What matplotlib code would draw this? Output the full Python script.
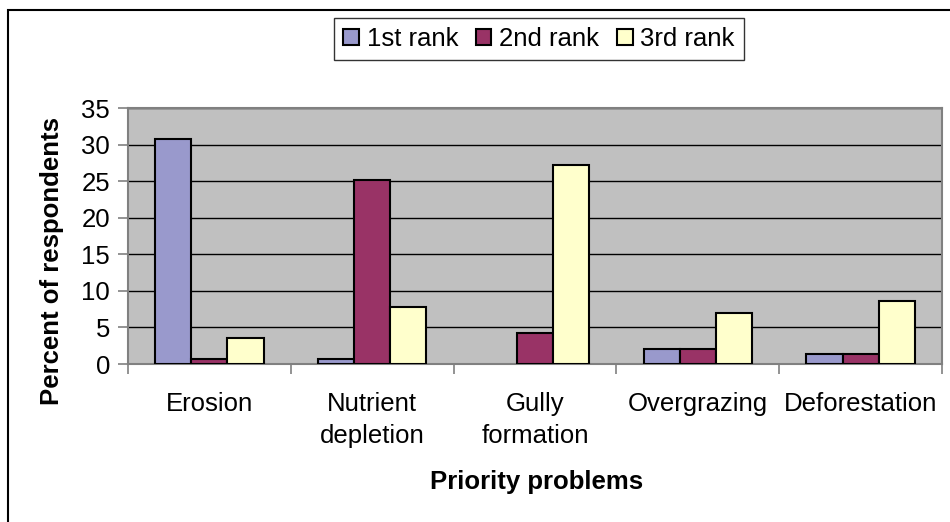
import numpy as np
import matplotlib.pyplot as plt
from matplotlib.patches import Rectangle

categories = ["Erosion", "Nutrient\ndepletion", "Gully\nformation", "Overgrazing", "Deforestation"]
series_names = ["1st rank", "2nd rank", "3rd rank"]
rank1 = [30.7, 0.7, 0.0, 2.1, 1.3]
rank2 = [0.7, 25.1, 4.3, 2.1, 1.3]
rank3 = [3.5, 7.8, 27.2, 7.0, 8.6]
colors = ["#9999CC", "#993366", "#FFFFCC"]

plt.rcParams["font.family"] = ["Liberation Sans", "DejaVu Sans"]

fig = plt.figure(figsize=(9.5, 5.22), dpi=100)
ax = fig.add_axes([128 / 950, 1 - 364 / 522, (942 - 128) / 950, (364 - 108) / 522])
ax.set_facecolor("#C0C0C0")

x = np.arange(len(categories))
w = 1 / 4.5
for i, (vals, name) in enumerate(zip([rank1, rank2, rank3], series_names)):
    bars = ax.bar(x + (i - 1) * w, vals, w, color=colors[i], edgecolor="black",
                  linewidth=1.5, label=name, zorder=3)
    for b, v in zip(bars, vals):
        if v == 0:
            b.set_linewidth(0)

ax.set_xlim(-0.5, len(categories) - 0.5)
ax.set_ylim(0, 35)
ax.set_yticks(range(0, 36, 5))
ax.yaxis.grid(True, color="black", linewidth=1, zorder=0)
ax.set_xticks(np.arange(len(categories) + 1) - 0.5)
ax.set_xticklabels([])
ax.set_xticks(x, minor=True)
ax.set_xticklabels(categories, minor=True, fontsize=18.5, linespacing=1.45)
ax.tick_params(axis="x", which="minor", length=0, pad=20)
ax.tick_params(axis="x", which="major", length=7, color="#808080", width=1.2)
ax.tick_params(axis="y", labelsize=18.5, length=7, color="#808080", width=1.2, pad=6)
for s in ["top", "right", "left", "bottom"]:
    ax.spines[s].set_color("#808080")
    ax.spines[s].set_linewidth(1.5)

ax.set_ylabel("Percent of respondents", fontsize=18.5, fontweight="bold")
ax.yaxis.set_label_coords(64 / 950, 0.5, transform=fig.transFigure)
ax.set_xlabel("Priority problems", fontsize=18.5, fontweight="bold")
ax.xaxis.label.set_va("center")
ax.xaxis.set_label_coords(537 / 950, 1 - 482 / 522, transform=fig.transFigure)

leg = fig.legend(loc="center", bbox_to_anchor=(539 / 950, 1 - 39 / 522), ncol=3,
                 fontsize=18.5, frameon=True, fancybox=False, edgecolor="black",
                 handlelength=0.6, handleheight=0.6, handletextpad=0.3,
                 columnspacing=0.7, borderpad=0.35)
leg.get_frame().set_linewidth(1)

fig.patches.append(Rectangle((8 / 950, -10 / 522), 960 / 950, 522 / 522,
                             transform=fig.transFigure, fill=False,
                             edgecolor="black", linewidth=1.5))

fig.savefig("out.png", dpi=100)
